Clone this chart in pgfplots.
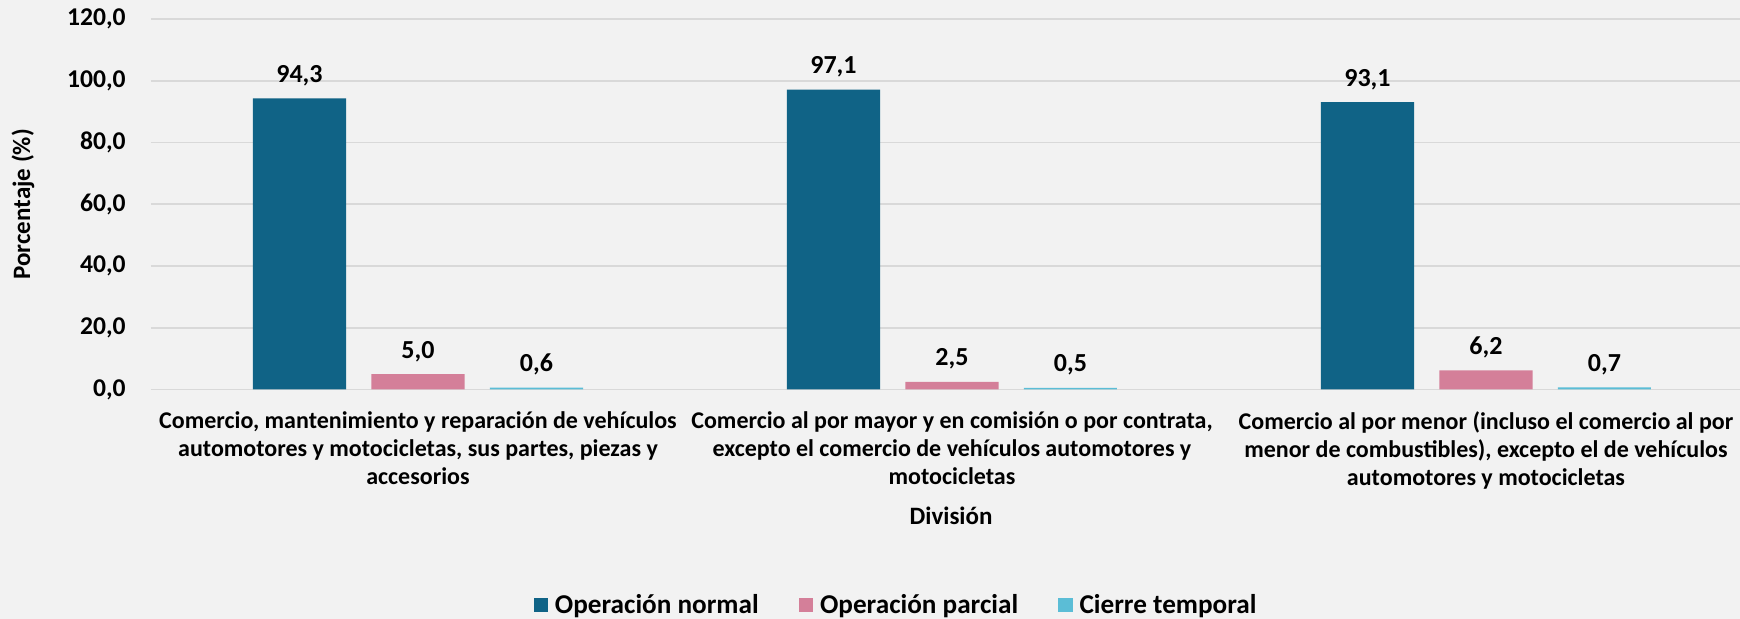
\documentclass[border=0pt]{standalone}
\usepackage{pgfplots}
\pgfplotsset{compat=1.18}
\usepackage{fontspec}
\setmainfont{Carlito}
\definecolor{bg}{HTML}{F2F2F2}
\definecolor{cblue}{HTML}{106386}
\definecolor{cpink}{HTML}{D47F99}
\definecolor{ccyan}{HTML}{5BBDD6}
\definecolor{gridc}{HTML}{D9D9D9}
\begin{document}
\begin{tikzpicture}[font=\bfseries]
\fill[bg] (-75.5pt,-114.75pt) rectangle (794.5pt,194.75pt);
\begin{axis}[
  at={(0,0)}, anchor=south west,
  scale only axis, width=794.5pt, height=185.25pt,
  xmin=-0.5, xmax=2.4757, ymin=0, ymax=120,
  axis line style={draw=none},
  tick style={draw=none}, major tick length=0pt,
  ymajorgrids, grid style={gridc, line width=0.8pt},
  ytick={0,20,...,120},
  xtick={0,1,2},
  xticklabels={{Comercio, mantenimiento y reparación de vehículos\\automotores y motocicletas, sus partes, piezas y\\accesorios},
               {Comercio al por mayor y en comisión o por contrata,\\excepto el comercio de vehículos automotores y\\motocicletas},
               {Comercio al por menor (incluso el comercio al por\\menor de combustibles), excepto el de vehículos\\automotores y motocicletas}},
  xticklabel style={align=center, font=\fontsize{12}{14}\selectfont\bfseries, anchor=north, inner sep=0pt, yshift=-11pt},
  yticklabel style={font=\fontsize{12.8}{15}\selectfont\bfseries, anchor=east, inner sep=0pt, xshift=-12.5pt},
  /pgf/number format/.cd, fixed, fixed zerofill, precision=1, use comma, assume math mode=true,
  /pgfplots/.cd,
  ybar=0pt, bar width=0.1742,
  nodes near coords,
  nodes near coords style={font=\fontsize{13}{15}\selectfont\bfseries, anchor=base, inner sep=0pt, yshift=8pt, text=black},
  xlabel={División},
  xlabel style={at={(axis description cs:0.5035,-0.3657)}, anchor=base, font=\fontsize{12.5}{15}\selectfont\bfseries},
  ylabel={Porcentaje (\%)},
  ylabel style={at={(axis description cs:-0.0806,0.5)}, anchor=center, font=\fontsize{12.5}{14}\selectfont\bfseries},
  legend style={at={(0.4695,-0.5816)}, anchor=center, legend columns=-1, draw=none, fill=none,
    font=\fontsize{13.6}{16}\selectfont\bfseries,
    /tikz/every odd column/.append style={column sep=1.5pt},
    /tikz/every even column/.append style={column sep=18pt}},
  legend image code/.code={\fill[#1, draw=none] (0pt,-3.6pt) rectangle (7.2pt,3.6pt);},
]
\addplot[fill=cblue, draw=none, bar shift=-0.2219] coordinates {(0,94.3) (1,97.1) (2,93.1)};
\addplot[fill=cpink, draw=none, bar shift=0] coordinates {(0,5.0) (1,2.5) (2,6.2)};
\addplot[fill=ccyan, draw=none, bar shift=0.2219] coordinates {(0,0.6) (1,0.5) (2,0.7)};
\legend{Operación normal, Operación parcial, Cierre temporal}
\end{axis}
\pgfresetboundingbox
\useasboundingbox (-75.5pt,-114.75pt) rectangle (794.5pt,194.75pt);
\end{tikzpicture}
\end{document}
